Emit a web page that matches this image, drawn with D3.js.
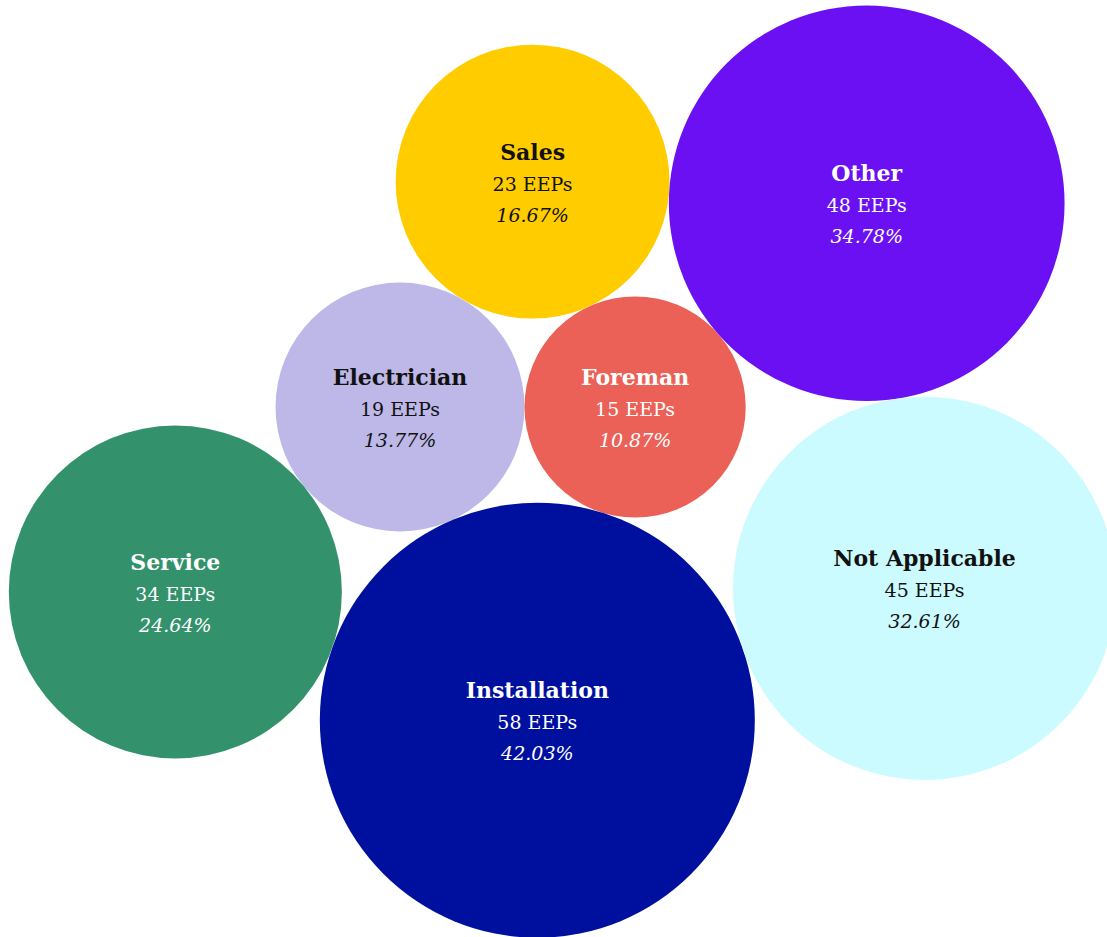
<!DOCTYPE html>
<html>
<head>
<meta charset="utf-8">
<script src="https://cdn.jsdelivr.net/npm/d3@7"></script>
<style>
  html, body { margin: 0; padding: 0; background: #ffffff; }
  svg { display: block; }
  .name { font-weight: bold; }
  .pct { font-style: italic; }
</style>
</head>
<body>
<div id="chart"></div>
<script>
// Employee roles and their EEP counts
const categories = ["Electrician", "Foreman", "Installation", "Sales", "Service", "Other", "Not Applicable"];
const counts = [19, 15, 58, 23, 34, 48, 45];
const fills = ["#bdb8e8", "#eb6157", "#00109e", "#ffcc00", "#33926c", "#6a10f2", "#ccfbff"];
const labelColors = ["#111111", "#ffffff", "#ffffff", "#111111", "#ffffff", "#ffffff", "#111111"];
// Respondents could pick several roles, so shares are of all EEPs surveyed
const totalEEPs = 138;

const width = 1107, height = 937;
const fmtPct = d3.format(".2f");

const svg = d3.select("#chart").append("svg")
  .attr("width", width)
  .attr("height", height);

// Bubble area proportional to count
const radius = d3.scaleSqrt().domain([0, d3.max(counts)]).range([0, 217.5]);

const nodes = categories.map((name, i) => ({
  name, value: counts[i], fill: fills[i], label: labelColors[i], r: radius(counts[i])
}));
const byName = Object.fromEntries(nodes.map(d => [d.name, d]));

// Place circle c tangent to circles a and b; side = +1 / -1 picks which side of a→b
function placeTangent(a, b, c, side) {
  const dx = b.x - a.x, dy = b.y - a.y;
  const d = Math.hypot(dx, dy);
  const ra = a.r + c.r, rb = b.r + c.r;
  const along = (d * d + ra * ra - rb * rb) / (2 * d);
  const h = Math.sqrt(Math.max(0, ra * ra - along * along));
  const ux = dx / d, uy = dy / d;
  c.x = a.x + along * ux - side * h * uy;
  c.y = a.y + along * uy + side * h * ux;
}

// Front pair side by side, the rest packed around them
const e = byName["Electrician"], f = byName["Foreman"];
e.x = 400; e.y = 407;
f.x = e.x + e.r + f.r; f.y = e.y;
placeTangent(e, f, byName["Installation"], 1);
placeTangent(e, f, byName["Sales"], -1);
placeTangent(e, byName["Installation"], byName["Service"], 1);
placeTangent(byName["Sales"], f, byName["Other"], -1);
placeTangent(byName["Installation"], byName["Other"], byName["Not Applicable"], 1);

const g = svg.selectAll("g.bubble")
  .data(nodes)
  .join("g")
  .attr("class", "bubble")
  .attr("transform", d => `translate(${d.x},${d.y})`);

g.append("circle")
  .attr("r", d => d.r)
  .attr("fill", d => d.fill);

const text = g.append("text")
  .attr("text-anchor", "middle")
  .attr("font-family", "'DejaVu Serif', serif")
  .attr("fill", d => d.label);

text.append("tspan")
  .attr("class", "name")
  .attr("x", 0)
  .attr("y", -22)
  .attr("font-size", 22)
  .text(d => d.name);

text.append("tspan")
  .attr("x", 0)
  .attr("y", 9)
  .attr("font-size", 19)
  .text(d => `${d.value} EEPs`);

text.append("tspan")
  .attr("class", "pct")
  .attr("x", 0)
  .attr("y", 40)
  .attr("font-size", 19)
  .text(d => `${fmtPct(d.value / totalEEPs * 100)}%`);
</script>
</body>
</html>
